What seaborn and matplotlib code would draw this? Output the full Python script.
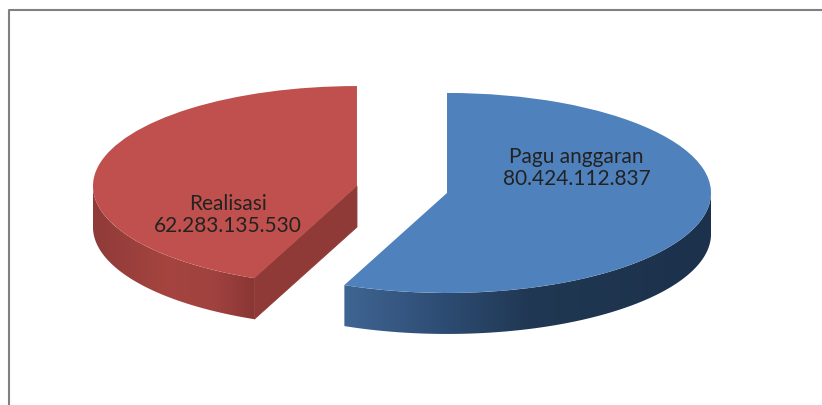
import numpy as np
import matplotlib
matplotlib.use('Agg')
import matplotlib.pyplot as plt
from matplotlib.colors import LinearSegmentedColormap
from matplotlib.lines import Line2D
from matplotlib.patches import Polygon
import seaborn as sns

categories = ['Pagu anggaran', 'Realisasi']
values = [80424112837, 62283135530]
value_labels = ['80.424.112.837', '62.283.135.530']

sns.set_theme(style='white')
plt.rcParams['font.family'] = ['Lato', 'DejaVu Sans']

top_colors = ['#4f81bd', '#c0504d']
blue_side = LinearSegmentedColormap.from_list('b', [(0, '#3f6592'), (0.25, '#2f4e76'), (0.5, '#203853'), (1, '#1c314b')])
red_side = LinearSegmentedColormap.from_list('r', [(0, '#8f3b39'), (0.45, '#a5443f'), (0.75, '#a04240'), (1, '#8a3633')])

W, H = 822, 406
rx, ry = 264, 100
depth = 0.41
cx, cy = 402, 190.5
explode = [0.174, 0.174]

fig = plt.figure(figsize=(W / 100, H / 100), dpi=100)
ax = fig.add_axes([0, 0, 1, 1])

# the flat top, zorder above the sides
wedges, _ = ax.pie(values, explode=explode, colors=top_colors, startangle=90,
                   counterclock=False, frame=False, wedgeprops={'zorder': 5, 'linewidth': 0})
xlim = (-cx / rx, (W - cx) / rx)
ylim = (-(H - cy) / ry, cy / ry)


def draw_side(center, a0, a1, cmap):
    # outer rim between two angles, gradient image clipped to the rim shape
    angs = np.radians(np.linspace(a0, a1, 300))
    xs = center[0] + np.cos(angs)
    ys = center[1] + np.sin(angs)
    rim = np.vstack([np.column_stack([xs, ys]), np.column_stack([xs, ys - depth])[::-1]])
    poly = Polygon(rim, closed=True, transform=ax.transData, fc='none', ec='none')
    ax.add_patch(poly)
    grad = np.linspace(0, 1, 256).reshape(1, -1)
    im = ax.imshow(grad, cmap=cmap, aspect='auto', zorder=2, interpolation='bilinear',
                   extent=(xs.min(), xs.max(), ys.min() - depth, ys.max()))
    im.set_clip_path(poly)


blue = wedges[0]
red = wedges[1]
split = blue.theta1 % 360
draw_side(blue.center, split, 360, blue_side)
draw_side(red.center, 180, split, red_side)

# cut face of the red slice
end = np.radians(split)
rc = red.center
ax.fill([rc[0], rc[0] + np.cos(end), rc[0] + np.cos(end), rc[0]],
        [rc[1], rc[1] + np.sin(end), rc[1] + np.sin(end) - depth, rc[1] - depth],
        fc='#8f3a37', ec='#8f3a37', lw=0.6, zorder=3)

ax.set_aspect('auto')
ax.set_xlim(*xlim)
ax.set_ylim(*ylim)
ax.axis('off')

ax.text(blue.center[0] + 0.49, blue.center[1] + 0.26, categories[0] + '\n' + value_labels[0],
        ha='center', va='center', fontsize=15, color='#222222', linespacing=1.15, zorder=6)
ax.text(red.center[0] - 0.49, red.center[1] - 0.28, categories[1] + '\n' + value_labels[1],
        ha='center', va='center', fontsize=15, color='#222222', linespacing=1.15, zorder=6)

# picture frame, only top and left show
fig.add_artist(Line2D([8.5 / W, 8.5 / W, 1], [0, 1 - 10.5 / H, 1 - 10.5 / H], color='#808080', lw=1.5))

fig.savefig('out.png', dpi=100)
